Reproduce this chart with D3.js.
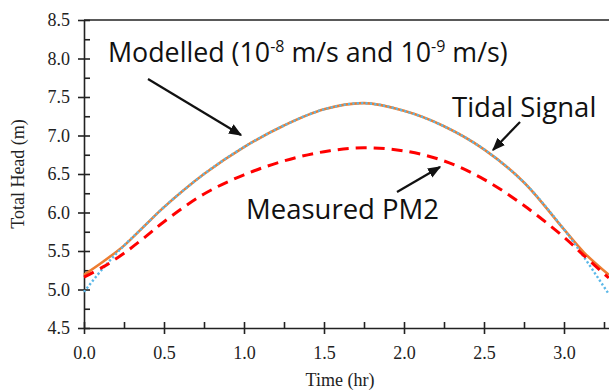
<!DOCTYPE html>
<html>
<head>
<meta charset="utf-8">
<script src="https://cdn.jsdelivr.net/npm/d3@7"></script>
<style>
  body { margin: 0; background: #fff; }
  svg { display: block; }
  .axis text { font-family: "Liberation Serif", "Times New Roman", serif; font-size: 18px; fill: #222; }
  .axis path, .axis line { stroke: #222; stroke-width: 1.6px; }
  .note { font-family: "Open Sans", "Noto Sans", sans-serif; fill: #111; }
</style>
</head>
<body>
<div id="chart"></div>
<script>
// time (hr)
const hours = [0, 0.125, 0.25, 0.375, 0.5, 0.75, 1.0, 1.25, 1.5, 1.75, 2.0, 2.25, 2.5, 2.75, 3.0, 3.125, 3.28];
// modelled 10^-8 m/s (orange solid)
const modelled8 = [5.19, 5.37, 5.57, 5.82, 6.07, 6.50, 6.85, 7.13, 7.34, 7.42, 7.32, 7.12, 6.82, 6.39, 5.78, 5.48, 5.19];
// modelled 10^-9 m/s (blue dotted)
const modelled9 = [4.97, 5.29, 5.57, 5.82, 6.07, 6.50, 6.85, 7.13, 7.34, 7.42, 7.32, 7.12, 6.82, 6.39, 5.78, 5.42, 4.94];
// measured PM2 (red dashed)
const measured = [5.16, 5.30, 5.47, 5.67, 5.88, 6.24, 6.49, 6.67, 6.79, 6.84, 6.80, 6.67, 6.43, 6.09, 5.68, 5.44, 5.15];

const xTicks = [0, 0.5, 1.0, 1.5, 2.0, 2.5, 3.0];
const yTicks = [4.5, 5.0, 5.5, 6.0, 6.5, 7.0, 7.5, 8.0, 8.5];

const width = 609, height = 390;

const svg = d3.select('#chart').append('svg')
    .attr('width', width)
    .attr('height', height);

let x = d3.scaleLinear().domain([0, 3.5]).range([84, 644]);
let y = d3.scaleLinear().domain([4.5, 8.5]).range([328, 20]);

// top border
svg.append('line')
    .attr('x1', x(0)).attr('x2', width)
    .attr('y1', y(8.5)).attr('y2', y(8.5))
    .attr('stroke', '#222').attr('stroke-width', 1.6);

// minor ticks (inside)
svg.append('g')
    .attr('class', 'axis')
    .attr('transform', `translate(0,${y(4.5)})`)
    .call(d3.axisTop(x).tickValues(d3.range(0.25, 3.5, 0.5)).tickSize(6).tickFormat(''))
    .select('.domain').remove();
svg.append('g')
    .attr('class', 'axis')
    .attr('transform', `translate(${x(0)},0)`)
    .call(d3.axisRight(y).tickValues(d3.range(4.75, 8.5, 0.5)).tickSize(6).tickFormat(''))
    .select('.domain').remove();

// major axes, ticks crossing the line
let xAxis = svg.append('g')
    .attr('class', 'axis')
    .attr('transform', `translate(0,${y(4.5)})`)
    .call(d3.axisBottom(x).tickValues(xTicks).tickSize(6).tickSizeOuter(0).tickPadding(12).tickFormat(d3.format('.1f')));
xAxis.selectAll('.tick line').attr('y1', -6).attr('y2', 6);

let yAxis = svg.append('g')
    .attr('class', 'axis')
    .attr('transform', `translate(${x(0)},0)`)
    .call(d3.axisLeft(y).tickValues(yTicks).tickSize(6).tickSizeOuter(0).tickPadding(8).tickFormat(d3.format('.1f')));
yAxis.selectAll('.tick line').attr('x1', -6).attr('x2', 6);

svg.append('text')
    .attr('x', 340).attr('y', 386)
    .attr('text-anchor', 'middle')
    .style('font-family', '"Liberation Serif", serif')
    .style('font-size', '18px')
    .attr('fill', '#222')
    .text('Time (hr)');

svg.append('text')
    .attr('transform', `translate(24,${(y(4.5) + y(8.5)) / 2}) rotate(-90)`)
    .attr('text-anchor', 'middle')
    .style('font-family', '"Liberation Serif", serif')
    .style('font-size', '18px')
    .attr('fill', '#222')
    .text('Total Head (m)');

// series
const line = d3.line()
    .x((d, i) => x(hours[i]))
    .y(d => y(d))
    .curve(d3.curveCatmullRom.alpha(0.5));

svg.append('path')
    .datum(modelled8)
    .attr('d', line)
    .attr('fill', 'none')
    .attr('stroke', '#ED7D31')
    .attr('stroke-width', 2.6);

svg.append('path')
    .datum(modelled9)
    .attr('d', line)
    .attr('fill', 'none')
    .attr('stroke', '#5BB8E8')
    .attr('stroke-width', 2.4)
    .attr('stroke-dasharray', '2.2,2.2');

svg.append('path')
    .datum(measured)
    .attr('d', line)
    .attr('fill', 'none')
    .attr('stroke', '#FF0000')
    .attr('stroke-width', 3)
    .attr('stroke-dasharray', '11,7');

// annotations
svg.append('defs').append('marker')
    .attr('id', 'head')
    .attr('viewBox', '0 0 10 10')
    .attr('refX', 9).attr('refY', 5)
    .attr('markerWidth', 6).attr('markerHeight', 6)
    .attr('markerUnits', 'strokeWidth')
    .attr('orient', 'auto')
    .append('path')
    .attr('d', 'M0,1 L10,5 L0,9 Z')
    .attr('fill', '#111');

const arrows = [
    [148, 79, 241, 135],
    [520, 122, 493, 150],
    [397, 192, 440, 167]
];
arrows.forEach(a => {
    svg.append('line')
        .attr('x1', a[0]).attr('y1', a[1])
        .attr('x2', a[2]).attr('y2', a[3])
        .attr('stroke', '#111')
        .attr('stroke-width', 2.2)
        .attr('marker-end', 'url(#head)');
});

let t1 = svg.append('text')
    .attr('class', 'note')
    .attr('x', 108).attr('y', 62)
    .style('font-size', '26.8px');
t1.append('tspan').text('Modelled (10');
t1.append('tspan').attr('dy', -10).style('font-size', '16px').text('-8');
t1.append('tspan').attr('dy', 10).text(' m/s and 10');
t1.append('tspan').attr('dy', -10).style('font-size', '16px').text('-9');
t1.append('tspan').attr('dy', 10).text(' m/s)');

svg.append('text')
    .attr('class', 'note')
    .attr('x', 452).attr('y', 117)
    .style('font-size', '27.5px')
    .text('Tidal Signal');

svg.append('text')
    .attr('class', 'note')
    .attr('x', 246).attr('y', 219)
    .style('font-size', '27.5px')
    .text('Measured PM2');
</script>
</body>
</html>
